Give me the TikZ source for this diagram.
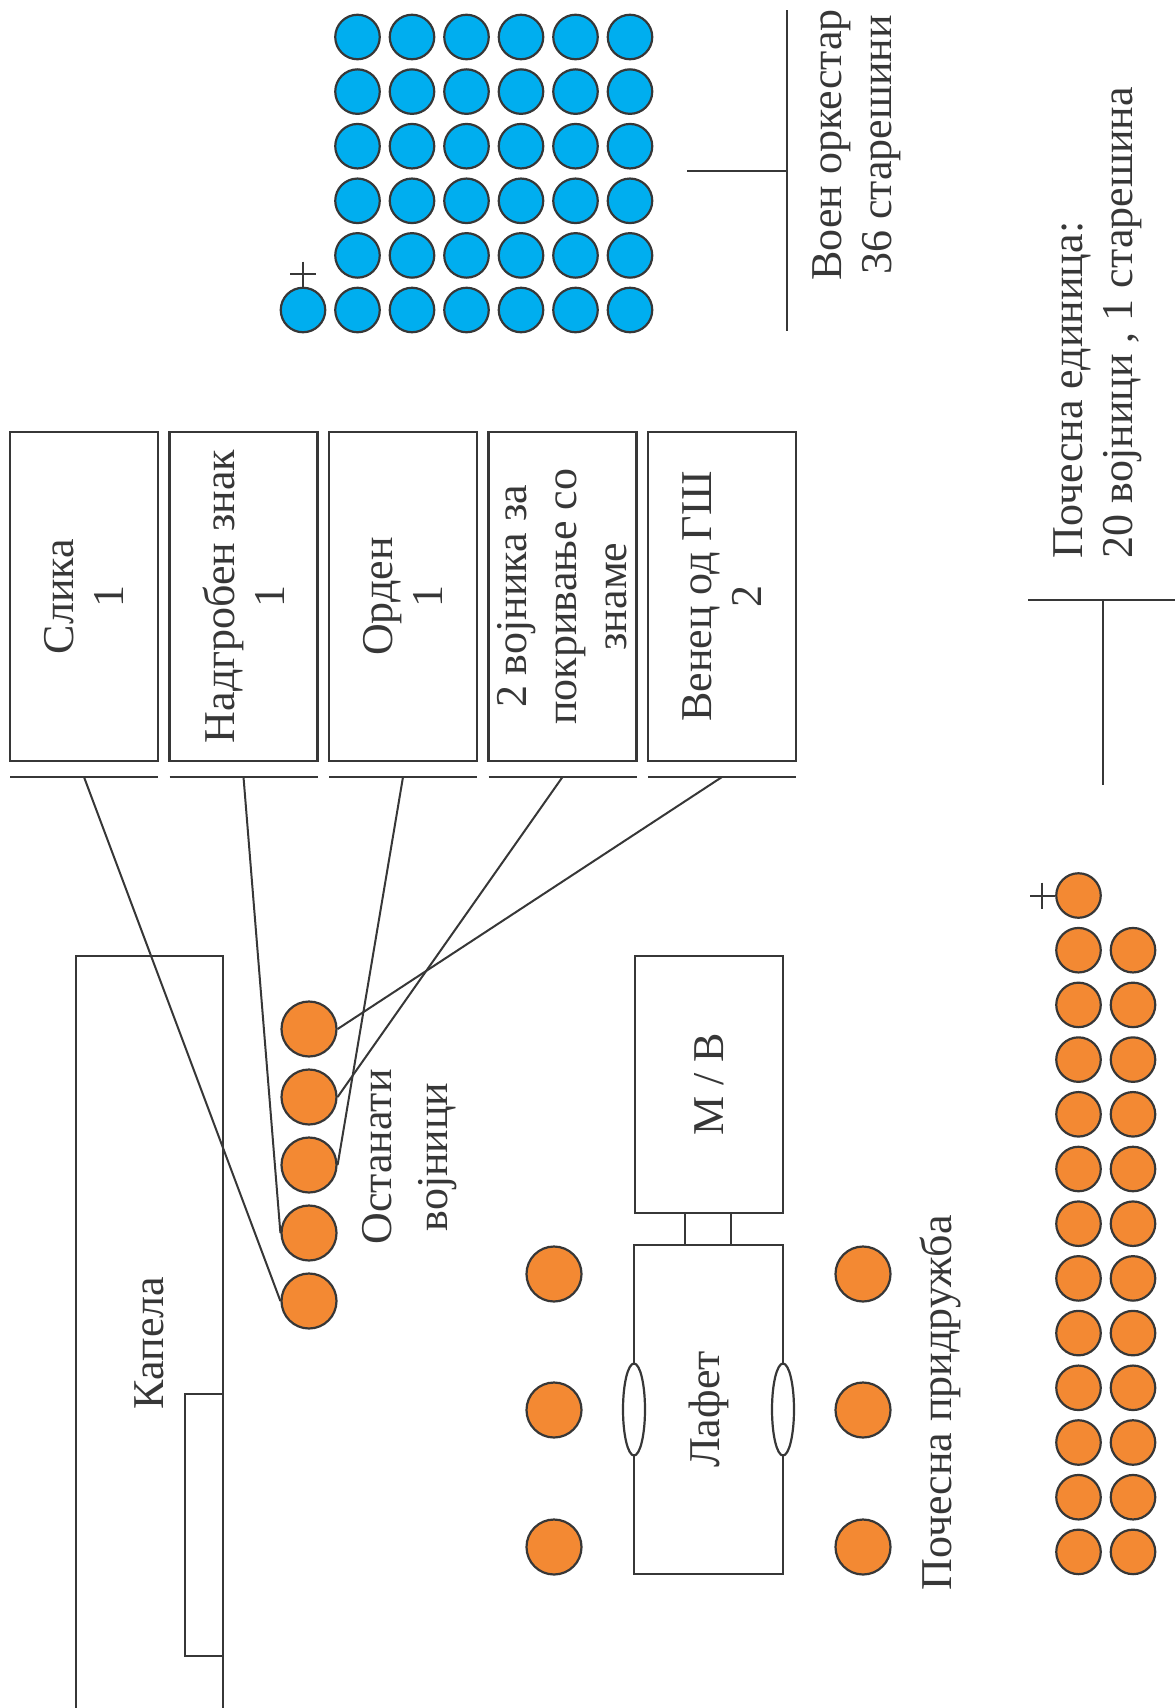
\documentclass[tikz,border=0pt]{standalone}
\usepackage{fontspec}
\setmainfont{Liberation Serif}
\usetikzlibrary{shapes.geometric}

\definecolor{ink}{RGB}{55,55,55}
\definecolor{soldier}{RGB}{243,137,51}
\definecolor{band}{RGB}{0,174,239}

\tikzset{
  plate/.style={draw, line width=2.2pt, rotate=90, inner sep=2pt,
    outer sep=0pt, align=center},
  plaque/.style={plate, minimum width=329pt, minimum height=148pt},
  lbl/.style={rotate=90, inner sep=0pt, align=center},
  man/.style={circle, draw, line width=2.2pt, fill=soldier,
    minimum size=55pt, inner sep=0pt},
  pip/.style={circle, draw, line width=2.2pt, minimum size=44.5pt,
    inner sep=0pt},
  wheel/.style={ellipse, draw, line width=2.2pt, fill=white,
    minimum width=22pt, minimum height=92pt, inner sep=0pt}
}

\begin{document}
\begin{tikzpicture}[x=1pt,y=-1pt,color=ink,line width=2pt]

\newcommand\UY{16pt}

  \fontsize{44}{50}\selectfont
  \useasboundingbox (0,0) rectangle (1175,1708);

  %% chapel
  \node[plate, minimum width=774pt, minimum height=147pt] (kapela)
  at (149.5,1343) {Капела};
  \draw[line width=2.2pt] (185,1394) rectangle (223,1656); %% altar

  %% items
  \node[plaque] (slika) at (84,596.5) {Слика\\1};
  \node[plaque] (znak) at (243.5,596.5) {Надгробен знак\\1};
  \node[plaque] (orden) at (403,596.5) {Орден\\1};
  \node[plaque] (zname) at (562.5,596.5) {2 војника за\\покривање со\\знаме};
  \node[plaque] (venec) at (722,596.5) {Венец од ГШ\\2};

  %% underlines
  \draw[line width=2.2pt] ([yshift=-\UY]slika.north west) -- ([yshift=-\UY]slika.south west);
  \draw[line width=2.2pt] ([yshift=-\UY]znak.north west) -- ([yshift=-\UY]znak.south west);
  \draw[line width=2.2pt] ([yshift=-\UY]orden.north west) -- ([yshift=-\UY]orden.south west);
  \draw[line width=2.2pt] ([yshift=-\UY]zname.north west) -- ([yshift=-\UY]zname.south west);
  \draw[line width=2.2pt] ([yshift=-\UY]venec.north west) -- ([yshift=-\UY]venec.south west);
  \coordinate (slikaU) at ([yshift=-\UY]slika.west);
  \coordinate (znakU) at ([yshift=-\UY]znak.west);
  \coordinate (ordenU) at ([yshift=-\UY]orden.west);
  \coordinate (znameU) at ([yshift=-\UY]zname.west);
  \coordinate (venecU) at ([yshift=-\UY]venec.west);

  %% remaining soldiers
  \foreach \i in {1,...,5}
    \node[man] (m\i) at (309,961+68*\i) {};
  \node[lbl, font={\fontsize{44}{56}\selectfont}] (rest) at (410,1157)
  {Останати\\војници};

  %% gun carriage
  \node[plate, minimum width=257pt, minimum height=148pt] (mv)
  at (709,1084.5) {М / В};
  \node[draw, line width=2.2pt, minimum width=46pt, minimum height=32pt,
    inner sep=0pt, outer sep=0pt] (hitch) at (708,1229) {};
  \node[plate, minimum width=329pt, minimum height=149pt] (lafet)
  at (708.5,1409.5) {Лафет};
  \node[wheel] (wl) at (lafet.north) {};
  \node[wheel] (wr) at (lafet.south) {};

  %% escort
  \node[man] (g1) at (554,1274) {};
  \node[man] (g2) at (554,1410) {};
  \node[man] (g3) at (554,1547) {};
  \node[man] (g4) at (863,1274) {};
  \node[man] (g5) at (863,1410) {};
  \node[man] (g6) at (863,1547) {};
  \node[lbl] (escort) at (940,1403) {Почесна придружба};

  %% band
  \foreach \c in {0,...,5}
    \foreach \r in {0,...,5}
      \node[pip, fill=band] (b\c\r) at (357.5+54.5*\c,37+54.6*\r) {};
  \node[pip, fill=band] (chief) at (303,310) {};
  \draw ([yshift=25pt]chief.north) -- (chief.north);
  \draw ([shift={(-13pt,13pt)}]chief.north) -- ([shift={(13pt,13pt)}]chief.north);
  \draw[line width=2.2pt] (787,10) -- (787,331);
  \draw[line width=2.2pt] (687,171) -- (787,171);
  \node[lbl] (bandtxt) at (857,145) {Воен оркестар\\36 старешини};

  %% honour unit
  \node[pip, fill=soldier] (h0) at (1078.5,895.5) {};
  \foreach \r in {1,...,12} {
    \node[pip, fill=soldier] (hl\r) at (1078.5,895.5+54.7*\r) {};
    \node[pip, fill=soldier] (hr\r) at (1133,895.5+54.7*\r) {};
  }
  \draw ([xshift=-25pt]h0.west) -- (h0.west);
  \draw ([shift={(-13pt,13pt)}]h0.west) -- ([shift={(-13pt,-13pt)}]h0.west);
  \draw[line width=2.2pt] (1028,600) -- (1175,600);
  \draw[line width=2.2pt] (1103,600) -- (1103,785);
  \node[lbl, align=left, anchor=west] (unittxt) at (1098,559)
  {Почесна единица:\\20 војници , 1 старешина};

  %% item to soldier
  \draw (slikaU) -- (m5.west);
  \draw (znakU) -- (m4.west);
  \draw (ordenU) -- (m3.east);
  \draw (znameU) -- (m2.east);
  \draw (venecU) -- (m1.east);

\end{tikzpicture}
\end{document}
